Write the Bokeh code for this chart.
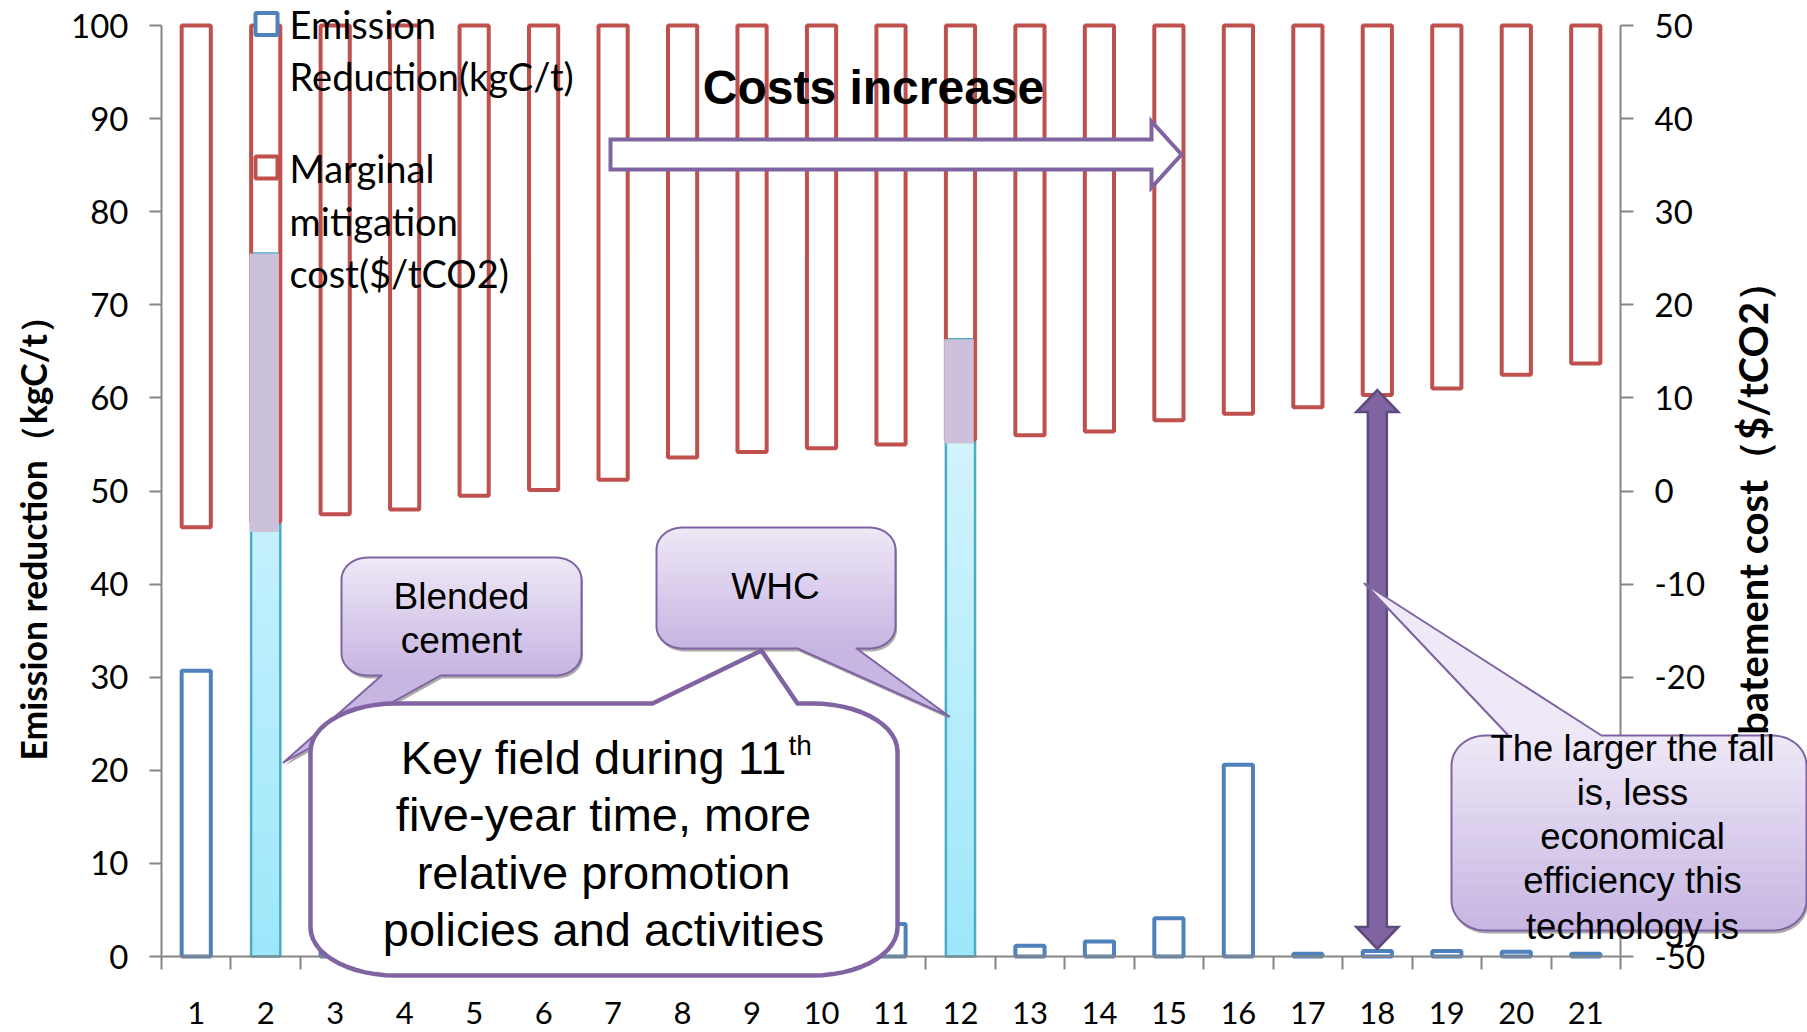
import math
import numpy as np
from bokeh.plotting import figure
from bokeh.models import (Range1d, LinearAxis, FixedTicker, Label, PolyAnnotation,
                          BoxAnnotation, ColumnDataSource)
from bokeh.embed import file_html
from bokeh.resources import INLINE

# ------------------------------------------------------------------ data
categories = [str(i) for i in range(1, 22)]
emission_reduction = [30.7, 75.5, 3.0, 2.0, 1.5, 4.5, 2.5, 1.0, 3.5, 2.0, 3.5,
                      66.3, 1.15, 1.6, 4.1, 20.6, 0.3, 0.6, 0.6, 0.5, 0.3]
marginal_cost = [-3.9, -3.3, -2.5, -2.0, -0.5, 0.1, 1.2, 3.6, 4.2, 4.6, 5.0,
                 5.5, 6.0, 6.4, 7.6, 8.3, 9.0, 10.3, 11.0, 12.5, 13.7]
highlight_cats = ["2", "12"]
highlight_shade_low = [45.6, 55.1]
arrow_cat = "18"
left_ticks = [0, 10, 20, 30, 40, 50, 60, 70, 80, 90, 100]
right_ticks = [-50, -40, -30, -20, -10, 0, 10, 20, 30, 40, 50]
right_tick_labels = ["-50", "-40", "-30", "-20", "-10", "0", "10", "20", "30", "40", "50"]
series_labels = [["Emission", "Reduction(kgC/t)"],
                 ["Marginal", "mitigation", "cost($/tCO2)"]]
left_title = "Emission reduction\uff08kgC/t\uff09"
right_title = "Abatement cost\uff08$/tCO2\uff09"

# ------------------------------------------------------------------ geometry / style
W, H = 1807, 1032
FL, FR, FT, FB = 161, 1620, 25, 956      # pixel box of the plotting area
NCAT = len(categories)
XR = (0.5, NCAT + 0.5)
YR = (0, 100)
CR = (-50, 50)

BLUE = "#4F81BD"
RED = "#C0504D"
CYAN_LINE = "#4BACC6"
CYAN_TOP = "#DDF6FD"
CYAN_BOT = "#9DE7FB"
LAV = "#CCC1DA"
PURPLE = "#8064A2"
PURPLE_DARK = "#5E4A7C"
AXIS_GRAY = "#868686"
C_TOP = "#EEE8F7"
C_BOT = "#C7B5E2"
SHADOW = "#8F8F8F"


def dx(px):
    return XR[0] + (px - FL) / (FR - FL) * (XR[1] - XR[0])


def dy(py):
    return YR[0] + (FB - py) / (FB - FT) * (YR[1] - YR[0])


def px_x(d):
    return FL + (d - XR[0]) / (XR[1] - XR[0]) * (FR - FL)


def px_y(v):
    return FB - (v - YR[0]) / (YR[1] - YR[0]) * (FB - FT)


def cost_to_left(c):
    return YR[0] + (c - CR[0]) / (CR[1] - CR[0]) * (YR[1] - YR[0])


def left_to_cost(v):
    return CR[0] + (v - YR[0]) / (YR[1] - YR[0]) * (CR[1] - CR[0])


def hex2rgb(h):
    return tuple(int(h[i:i + 2], 16) for i in (1, 3, 5))


def mix(a, b, t):
    ra, rb = hex2rgb(a), hex2rgb(b)
    return "#%02x%02x%02x" % tuple(int(round(ra[i] + (rb[i] - ra[i]) * t)) for i in range(3))


# the frame covers the whole canvas; axes are pinned to the plotting box
p = figure(width=W, height=H,
           x_range=Range1d(dx(0), dx(W)), y_range=Range1d(dy(H), dy(0)),
           output_backend="svg", toolbar_location=None,
           x_axis_location=None, y_axis_location=None,
           min_border_left=0, min_border_right=0, min_border_top=0, min_border_bottom=0)
p.extra_y_ranges = {"cost": Range1d(left_to_cost(dy(H)), left_to_cost(dy(0)))}
p.xgrid.grid_line_color = None
p.ygrid.grid_line_color = None
p.outline_line_color = None
p.background_fill_color = "white"
p.border_fill_color = "white"


def style_axis(ax, size):
    ax.axis_line_color = AXIS_GRAY
    ax.axis_line_width = 2
    ax.major_tick_line_color = AXIS_GRAY
    ax.major_tick_line_width = 2
    ax.minor_tick_line_color = None
    ax.major_tick_in = 0
    ax.major_tick_out = 13
    ax.major_label_text_font = "Lato"
    ax.major_label_text_font_size = f"{size}px"
    ax.major_label_text_color = "black"


yl = LinearAxis(ticker=FixedTicker(ticks=left_ticks), fixed_location=XR[0], bounds=YR)
style_axis(yl, 33)
yl.major_tick_out = 12
yl.major_label_standoff = 21
p.add_layout(yl, "left")

yr = LinearAxis(y_range_name="cost", ticker=FixedTicker(ticks=right_ticks),
                fixed_location=XR[1], bounds=CR,
                major_label_overrides={t: s for t, s in zip(right_ticks, right_tick_labels)})
style_axis(yr, 33)
yr.major_label_standoff = 21
p.add_layout(yr, "right")

xs = list(range(1, NCAT + 1))
xa = LinearAxis(ticker=FixedTicker(ticks=xs, minor_ticks=[i + 0.5 for i in range(NCAT + 1)]),
                fixed_location=YR[0], bounds=XR,
                major_label_overrides={x: c for x, c in zip(xs, categories)})
style_axis(xa, 31)
xa.major_tick_out = 0
xa.major_tick_line_color = None
xa.minor_tick_in = 0
xa.minor_tick_out = 13
xa.minor_tick_line_color = AXIS_GRAY
xa.minor_tick_line_width = 2
xa.major_label_standoff = 32
p.add_layout(xa, "below")

# ------------------------------------------------------------------ bars
BW = 0.42
hl_idx = [categories.index(c) for c in highlight_cats]
norm_idx = [i for i in range(NCAT) if i not in hl_idx]

src_blue = ColumnDataSource(dict(x=[xs[i] for i in norm_idx],
                                 top=[emission_reduction[i] for i in norm_idx]))
p.vbar(x="x", top="top", bottom=0, width=BW, source=src_blue,
       fill_color=None, line_color=BLUE, line_width=4)

# highlighted bars: vertical gradient made of thin strips
NS = 40
gx, gb, gt, gc = [], [], [], []
for i in hl_idx:
    top = emission_reduction[i]
    for k in range(NS):
        b = top * k / NS
        t = min(top, top * (k + 1) / NS + top * 0.004)
        gx.append(xs[i])
        gb.append(b)
        gt.append(t)
        gc.append(mix(CYAN_BOT, CYAN_TOP, (k + 0.5) / NS))
p.vbar(x=gx, bottom=gb, top=gt, width=BW, fill_color=gc, line_color=None)
p.vbar(x=[xs[i] for i in hl_idx], top=[emission_reduction[i] for i in hl_idx], bottom=0,
       width=BW, fill_color=None, line_color=CYAN_LINE, line_width=2.5)

# marginal cost bars hang from the top of the secondary axis
p.vbar(x=xs, top=CR[1], bottom=marginal_cost, width=BW, y_range_name="cost",
       fill_color=None, line_color=RED, line_width=4)

# overlap shading of highlighted bars
p.quad(left=[xs[i] - 0.235 for i in hl_idx], right=[xs[i] + 0.19 for i in hl_idx],
       bottom=highlight_shade_low, top=[emission_reduction[i] for i in hl_idx],
       fill_color=LAV, line_color=None)


# ------------------------------------------------------------------ helpers
def poly(pts, fill=None, line=None, lw=0, alpha=1.0, join="miter"):
    p.add_layout(PolyAnnotation(xs=[dx(q[0]) for q in pts], ys=[dy(q[1]) for q in pts],
                                fill_color=fill, fill_alpha=(alpha if fill else 0),
                                line_color=line, line_alpha=(1 if line else 0),
                                line_width=lw, line_join=join))


def add_text(text, px, py, size, font="Liberation Sans", style="normal", align="center",
             baseline="middle", angle=0, color="black"):
    p.add_layout(Label(x=dx(px), y=dy(py), text=text, text_font=font,
                       text_font_size=f"{size}px", text_font_style=style,
                       text_align=align, text_baseline=baseline, angle=angle,
                       angle_units="deg", text_color=color))


def callout_pts(x0, y0, x1, y1, rx, ry, tail=None, n=14):
    def arc(cx, cy, a0, a1):
        return [(cx + rx * math.cos(math.radians(a)), cy + ry * math.sin(math.radians(a)))
                for a in np.linspace(a0, a1, n)]
    pts = [(x0 + rx, y0)]
    if tail and tail[0] == "top":
        _, xa_, xb_, tx, ty = tail
        pts += [(xa_, y0), (tx, ty), (xb_, y0)]
    pts += arc(x1 - rx, y0 + ry, -90, 0)
    pts += arc(x1 - rx, y1 - ry, 0, 90)
    if tail and tail[0] == "bottom":
        _, xa_, xb_, tx, ty = tail
        pts += [(xb_, y1), (tx, ty), (xa_, y1)]
    pts += arc(x0 + rx, y1 - ry, 90, 180)
    pts += arc(x0 + rx, y0 + ry, 180, 270)
    return pts


def clip_band(pts, ya, yb):
    def clip(pl, inside, yv):
        out = []
        if not pl:
            return out
        prev = pl[-1]
        for cur in pl:
            if inside(cur):
                if not inside(prev):
                    t = (yv - prev[1]) / (cur[1] - prev[1])
                    out.append((prev[0] + t * (cur[0] - prev[0]), yv))
                out.append(cur)
            elif inside(prev):
                t = (yv - prev[1]) / (cur[1] - prev[1])
                out.append((prev[0] + t * (cur[0] - prev[0]), yv))
            prev = cur
        return out
    pl = clip(pts, lambda q: q[1] >= ya, ya)
    pl = clip(pl, lambda q: q[1] <= yb, yb)
    return pl


def gradient_callout(pts, y_top, y_bot, line_w=2.0, nb=30):
    poly([(x + 1.5, y + 3) for x, y in pts], fill=SHADOW, alpha=0.75)
    ys_ = [q[1] for q in pts]
    edges = np.linspace(min(ys_), max(ys_), nb + 1)
    for k in range(nb):
        band = clip_band(pts, edges[k] - 0.7, edges[k + 1] + 0.7)
        if len(band) < 3:
            continue
        ym = 0.5 * (edges[k] + edges[k + 1])
        t = min(1.0, max(0.0, (ym - y_top) / (y_bot - y_top)))
        poly(band, fill=mix(C_TOP, C_BOT, t))
    poly(pts, line=PURPLE, lw=line_w, join="round")


# axis titles (right one sits partly under the bottom-right callout)
add_text(left_title, 33, 760, 35.5, font="Lato", style="bold", align="left", angle=90)
add_text(right_title, 1752, 262, 40, font="Lato", style="bold", align="right", angle=90)

# ------------------------------------------------------------------ shapes
# "Costs increase" block arrow
poly([(610, 139), (1151, 139), (1151, 121), (1181, 154), (1151, 187), (1151, 169), (610, 169)],
     fill="white", line=PURPLE, lw=4)

# double-headed arrow on the arrow category, spanning cost bar bottom to emission bar top
ai = categories.index(arrow_cat)
axc = px_x(xs[ai])
a_top = px_y(cost_to_left(marginal_cost[ai])) - 5
a_bot = px_y(emission_reduction[ai]) - 2
hw, sw, hl = 21, 9.5, 22
poly([(axc, a_top), (axc + hw, a_top + hl), (axc + sw, a_top + hl), (axc + sw, a_bot - hl),
      (axc + hw, a_bot - hl), (axc, a_bot), (axc - hw, a_bot - hl), (axc - sw, a_bot - hl),
      (axc - sw, a_top + hl), (axc - hw, a_top + hl)],
     fill=PURPLE, line=PURPLE_DARK, lw=2.5)

# callouts
blended = callout_pts(341, 557, 581, 675, 26, 22, tail=("bottom", 381, 440, 283, 762))
gradient_callout(blended, 557, 675)
whc = callout_pts(656, 527, 895, 648, 26, 22, tail=("bottom", 797, 856, 949, 716))
gradient_callout(whc, 527, 648)
big = callout_pts(310, 703, 897, 975, 85, 48, tail=("top", 652, 797, 761, 650))
poly(big, fill="white", line=PURPLE, lw=4.5, join="round")
fall = callout_pts(1451, 735, 1806, 930, 34, 30, tail=("top", 1508, 1601, 1364, 583))
gradient_callout(fall, 735, 930)

# ------------------------------------------------------------------ texts
add_text("Costs increase", 873, 87, 48, style="bold")
add_text("Blended", 461, 596, 37)
add_text("cement", 461, 640, 37)
add_text("WHC", 775, 586, 37)
add_text("Key field during 11", 786, 757, 47, align="right")
add_text("th", 788, 745, 28, align="left")
for txt, yy in zip(["five-year time, more", "relative promotion", "policies and activities"],
                   [814, 872, 929]):
    add_text(txt, 603, yy, 47)
for txt, yy in zip(["The larger the fall", "is, less", "economical", "efficiency this",
                    "technology is"], [748, 792, 836, 880, 926]):
    add_text(txt, 1632, yy, 36.5)

# legend
legend_rows = [[23.5, 75.5], [167, 220, 272]]
legend_cols = [BLUE, RED]
for labels, rows, col in zip(series_labels, legend_rows, legend_cols):
    p.add_layout(BoxAnnotation(left=dx(255), right=dx(277), top=dy(rows[0] - 11),
                               bottom=dy(rows[0] + 11), fill_color="white", fill_alpha=1,
                               line_color=col, line_alpha=1, line_width=4))
    for lab, yy in zip(labels, rows):
        add_text(lab, 289, yy, 38, font="Lato", align="left")

open("out.html", "w").write(file_html(p, INLINE))
